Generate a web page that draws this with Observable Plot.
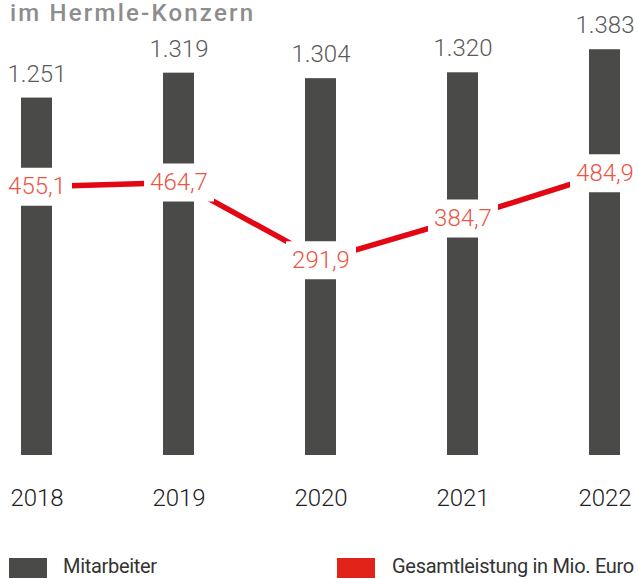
<!DOCTYPE html>
<html>
<head>
<meta charset="utf-8">
<script src="https://cdn.jsdelivr.net/npm/d3@7"></script>
<script src="https://cdn.jsdelivr.net/npm/@observablehq/plot@0.6"></script>
<style>
  html, body { margin: 0; padding: 0; background: #fff; }
  #wrap { position: relative; width: 638px; height: 579px; overflow: hidden; font-family: Roboto, "Noto Sans", sans-serif; }
  #wrap svg { position: absolute; left: 0; top: 0; }
  .title { position: absolute; left: 10px; top: 0px; font-size: 24px; line-height: 26px; font-weight: 500; color: #8d8d8d; letter-spacing: 2.2px; white-space: nowrap; }
  .leg { position: absolute; top: 558px; height: 20px; }
  .legtxt { position: absolute; top: 554px; font-size: 20px; color: #333; white-space: nowrap; letter-spacing: -0.3px; }
</style>
</head>
<body>
<div id="wrap">
  <div class="title">im Hermle-Konzern</div>
</div>
<script>
const years = ["2018", "2019", "2020", "2021", "2022"];
const mitarbeiter = [1251, 1319, 1304, 1320, 1383];
const mitarbeiterLabels = ["1.251", "1.319", "1.304", "1.320", "1.383"];
const gesamtleistung = [455.1, 464.7, 291.9, 384.7, 484.9];
const gesamtLabels = ["455,1", "464,7", "291,9", "384,7", "484,9"];
const legendItems = ["Mitarbeiter", "Gesamtleistung in Mio. Euro"];

const rows = years.map((year, i) => ({
  year, m: mitarbeiter[i], mLabel: mitarbeiterLabels[i], g: gesamtleistung[i], gLabel: gesamtLabels[i]
}));

const W = 638, H = 579;
const xOpts = { type: "band", domain: years, paddingInner: 0.783, paddingOuter: 0, axis: null, label: null };
const barBase = 275;

const bars = Plot.plot({
  width: W, height: H,
  marginLeft: 19, marginRight: 16, marginTop: 43, marginBottom: 124,
  x: xOpts,
  y: { domain: [barBase, 1400], axis: null },
  style: { background: "transparent", fontFamily: "Roboto, sans-serif" },
  marks: [
    Plot.barY(rows, { x: "year", y1: barBase, y2: "m", fill: "#4a4a49" }),
    Plot.text(rows, { x: "year", y: "m", text: "mLabel", dy: -24, fontSize: 24, fontWeight: 300, fill: "#5a5a5a", letterSpacing: "-1px" }),
    Plot.axisX({ tickSize: 0, tickPadding: 33, fontSize: 24, fontWeight: 300, fill: "#222", letterSpacing: "-0.5px", label: null })
  ]
});

const boxSymbol = { draw(context) { context.rect(-35, -19, 70, 38); } };

const line = Plot.plot({
  width: W, height: H,
  marginLeft: 19, marginRight: 16, marginTop: 121, marginBottom: 188,
  x: xOpts,
  y: { domain: [0, 600], axis: null },
  style: { background: "transparent", fontFamily: "Roboto, sans-serif" },
  marks: [
    Plot.line(rows, { x: "year", y: "g", stroke: "#e30613", strokeWidth: 5.5 }),
    Plot.dot(rows, { x: "year", y: "g", symbol: boxSymbol, fill: "white", stroke: "none" }),
    Plot.text(rows, { x: "year", y: "g", text: "gLabel", fontSize: 24, fontWeight: 300, fill: "#ea5546", letterSpacing: "-1px" })
  ]
});

const wrap = document.getElementById("wrap");
wrap.appendChild(bars);
wrap.appendChild(line);

// legend
const legColors = ["#4a4a49", "#e2231a"];
const legX = [9, 337];
const legTxtX = [63, 392];
legendItems.forEach((t, i) => {
  const sw = document.createElement("div");
  sw.className = "leg";
  sw.style.left = legX[i] + "px";
  sw.style.width = "38px";
  sw.style.background = legColors[i];
  wrap.appendChild(sw);
  const tx = document.createElement("div");
  tx.className = "legtxt";
  tx.style.left = legTxtX[i] + "px";
  tx.textContent = t;
  wrap.appendChild(tx);
});
</script>
</body>
</html>
